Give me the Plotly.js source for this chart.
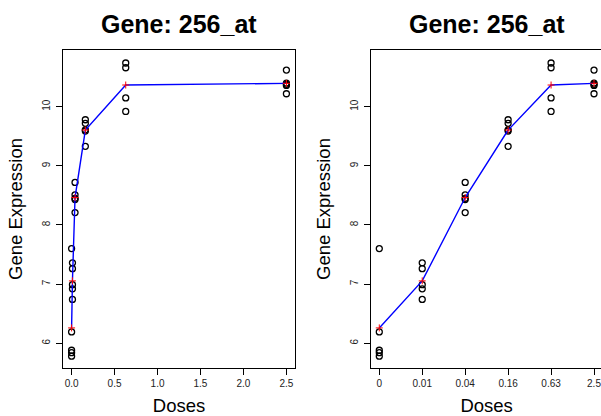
<!DOCTYPE html>
<html><head><meta charset="utf-8">
<script src="https://cdn.plot.ly/plotly-3.0.1.min.js"></script>
<style>html,body{margin:0;padding:0;overflow:hidden;background:#fff}</style>
</head><body><div id="chart"></div>
<script>
// Data
var doses = [0, 0.01, 0.04, 0.16, 0.63, 2.5];
var doseLabels = ["0", "0.01", "0.04", "0.16", "0.63", "2.5"];
var expr0    = [7.60, 6.19, 5.88, 5.84, 5.78];
var expr001  = [7.36, 7.26, 6.99, 6.92, 6.74];
var expr004  = [8.72, 8.51, 8.45, 8.43, 8.21];
var expr016  = [9.78, 9.72, 9.61, 9.59, 9.33];
var expr063  = [10.74, 10.66, 10.15, 9.92];
var expr25   = [10.62, 10.40, 10.38, 10.36, 10.22];
var groups = [expr0, expr001, expr004, expr016, expr063, expr25];
var titleText = "Gene: 256_at";

function mean(a){return a.reduce(function(s,v){return s+v;},0)/a.length;}
var means = groups.map(mean);

var xL = [], xR = [], yAll = [];
groups.forEach(function(g, i){
  g.forEach(function(v){ xL.push(doses[i]); xR.push(i+1); yAll.push(v); });
});
var idx = doses.map(function(d,i){return i+1;});

var FONT = "Liberation Sans, Arial, sans-serif";
function pts(x, xa, ya){
  return {x:x, y:yAll, xaxis:xa, yaxis:ya, type:'scatter', mode:'markers',
    marker:{symbol:'circle-open', size:6, color:'black', line:{width:1.3, color:'black'}},
    hoverinfo:'skip', showlegend:false};
}
function line(x, xa, ya){
  return {x:x, y:means, xaxis:xa, yaxis:ya, type:'scatter', mode:'lines',
    line:{color:'#0000FF', width:1.4}, showlegend:false};
}
function plus(x, xa, ya){
  return {x:x, y:means, xaxis:xa, yaxis:ya, type:'scatter', mode:'markers',
    marker:{symbol:'cross-thin-open', size:5, color:'#FF0000', line:{width:1, color:'#FF0000'}},
    showlegend:false};
}
var data = [pts(xL, 'x', 'y'), line(doses,'x','y'), plus(doses,'x','y'),
            pts(xR,'x2','y2'), line(idx,'x2','y2'), plus(idx,'x2','y2')];

var W = 604, H = 416;
var axCommon = {showline:true, mirror:true, linecolor:'black', linewidth:1,
  ticks:'outside', ticklen:6, tickwidth:1, tickcolor:'black', showgrid:false, zeroline:false,
  tickfont:{family:FONT, size:10, color:'#222'}};
function ax(extra){ var o = {}; for (var k in axCommon) o[k]=axCommon[k]; for (var k in extra) o[k]=extra[k]; return o; }
var yr = [5.58, 10.96];
var titleFont = {family:FONT, size:18.5, color:'black'};
var layout = {
  width: W, height: H,
  margin:{l:0, r:0, t:50, b:48},
  paper_bgcolor:'white', plot_bgcolor:'white',
  font:{family:FONT, color:'black'},
  showlegend:false,
  xaxis: ax({domain:[63/W, 295/W], range:[-0.1, 2.6], tickvals:[0,0.5,1,1.5,2,2.5], tickformat:'.1f',
    title:{text:'Doses', font:titleFont, standoff:12}}),
  yaxis: ax({domain:[0,1], range:yr, tickvals:[6,7,8,9,10], tickangle:-90, ticklabelstandoff:2,
    title:{text:'Gene Expression', font:titleFont, standoff:13}}),
  xaxis2: ax({domain:[370.7/W, 602.6/W], anchor:'y2', range:[0.8, 6.2], tickvals:idx, ticktext:doseLabels,
    title:{text:'Doses', font:titleFont, standoff:12}}),
  yaxis2: ax({domain:[0,1], anchor:'x2', range:yr, tickvals:[6,7,8,9,10], tickangle:-90, ticklabelstandoff:2,
    mirror:false, title:{text:'Gene Expression', font:titleFont, standoff:13}}),
  annotations:[
    {text:'<b>'+titleText+'</b>', xref:'x domain', yref:'paper', x:0.5, y:1+26/318, xanchor:'center', yanchor:'middle',
     showarrow:false, font:{family:FONT, size:25, color:'black'}},
    {text:'<b>'+titleText+'</b>', xref:'x2 domain', yref:'paper', x:0.5, y:1+26/318, xanchor:'center', yanchor:'middle',
     showarrow:false, font:{family:FONT, size:25, color:'black'}}
  ]
};
Plotly.newPlot('chart', data, layout, {staticPlot:true, displayModeBar:false});
</script></body></html>
